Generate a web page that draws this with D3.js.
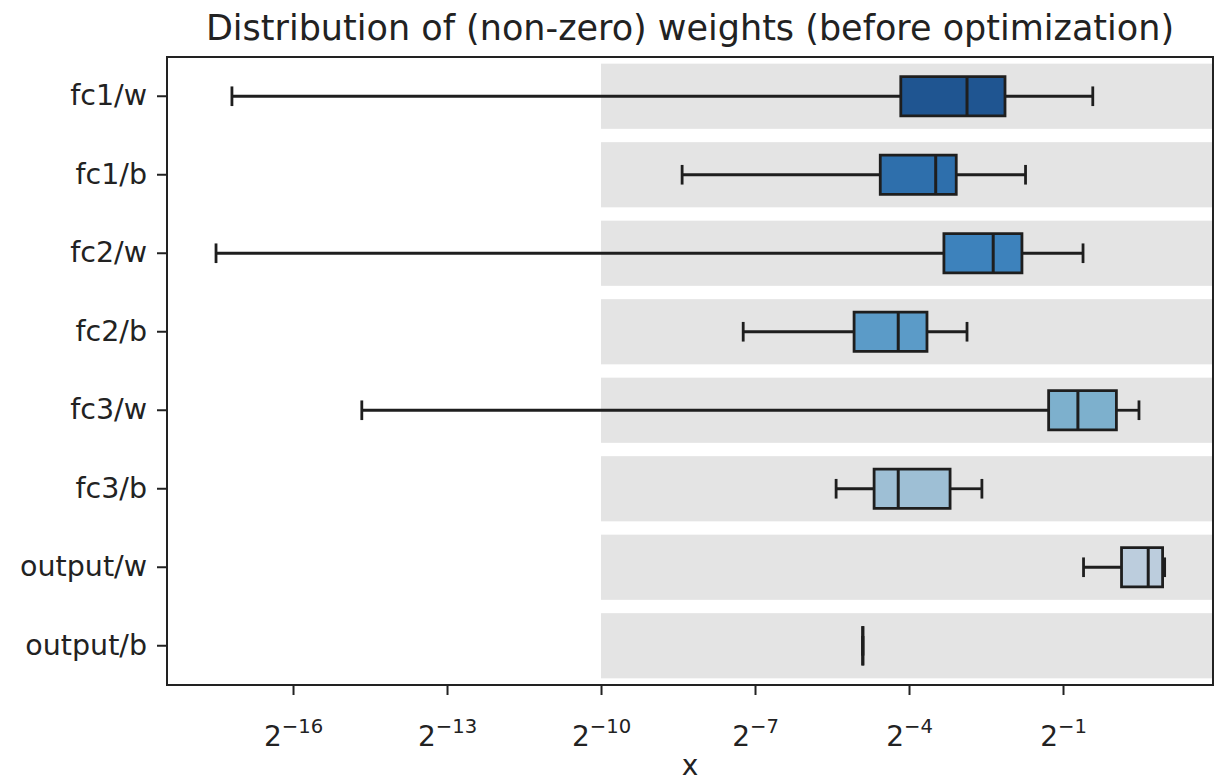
<!DOCTYPE html>
<html>
<head>
<meta charset="utf-8">
<script src="https://cdn.jsdelivr.net/npm/d3@7"></script>
<style>
  body { margin: 0; background: #fff; }
  text { font-family: "DejaVu Sans", sans-serif; fill: #222; }
</style>
</head>
<body>
<svg id="chart" width="1228" height="783"></svg>
<script>
// values, as log2 exponents
const categories = ["fc1/w", "fc1/b", "fc2/w", "fc2/b", "fc3/w", "fc3/b", "output/w", "output/b"];
const whiskerLo = [-17.19, -8.42, -17.5, -7.23, -14.66, -5.42, -0.60, -4.90];
const q1 =        [-4.16, -4.56, -3.32, -5.07, -1.28, -4.68, 0.14, -4.90];
const median =    [-2.87, -3.48, -2.36, -4.21, -0.71, -4.21, 0.66, -4.90];
const q3 =        [-2.13, -3.08, -1.80, -3.65, 0.04, -3.20, 0.94, -4.90];
const whiskerHi = [-0.42, -1.73, -0.61, -2.87, 0.48, -2.58, 0.98, -4.90];
const tickExps = [-16, -13, -10, -7, -4, -1];
const bandStartExp = -10;
const colors = ["#1f5591", "#2e6fac", "#3d82bc", "#5b9bc8", "#7db0cd", "#9ebfd5", "#bccddd", "#d6e2ed"];

const mLeft = 167, mRight = 1213, mTop = 57, mBottom = 685;
const svg = d3.select("#chart");

const x = d3.scaleLog().base(2)
  .domain([Math.pow(2, -18.455), Math.pow(2, 1.922)])
  .range([mLeft, mRight]);

const y = d3.scaleBand()
  .domain(categories)
  .range([mTop, mBottom]);

const bw = y.bandwidth();
const rows = categories.map((c, i) => ({
  name: c, lo: whiskerLo[i], q1: q1[i], med: median[i], q3: q3[i], hi: whiskerHi[i], color: colors[i]
}));
const px = e => x(Math.pow(2, e));

svg.append("clipPath").attr("id", "plot")
  .append("rect").attr("x", mLeft).attr("y", mTop).attr("width", mRight - mLeft).attr("height", mBottom - mTop);

const plot = svg.append("g").attr("clip-path", "url(#plot)");

// gray background bands
plot.selectAll("rect.band")
  .data(rows)
  .enter()
  .append("rect")
  .attr("class", "band")
  .attr("x", px(bandStartExp))
  .attr("y", d => y(d.name) + bw * 0.085)
  .attr("width", mRight - px(bandStartExp) + 10)
  .attr("height", bw * 0.83)
  .attr("fill", "#e4e4e4");

const lineColor = "#1e1e1e";
const lw = 2.8;
const g = plot.selectAll("g.box")
  .data(rows)
  .enter()
  .append("g")
  .attr("class", "box");

const cy = d => y(d.name) + bw / 2;

// whiskers
g.append("line")
  .attr("x1", d => px(d.lo)).attr("x2", d => px(d.q1))
  .attr("y1", cy).attr("y2", cy)
  .attr("stroke", lineColor).attr("stroke-width", lw);
g.append("line")
  .attr("x1", d => px(d.q3)).attr("x2", d => px(d.hi))
  .attr("y1", cy).attr("y2", cy)
  .attr("stroke", lineColor).attr("stroke-width", lw);

// caps
["lo", "hi"].forEach(k => {
  g.append("line")
    .attr("x1", d => px(d[k])).attr("x2", d => px(d[k]))
    .attr("y1", d => cy(d) - bw * 0.125).attr("y2", d => cy(d) + bw * 0.125)
    .attr("stroke", lineColor).attr("stroke-width", lw);
});

// boxes (path so a zero-width box still shows)
g.append("path")
  .attr("d", d => {
    const x1 = px(d.q1), x2 = px(d.q3), y0 = cy(d) - bw * 0.25, y1 = cy(d) + bw * 0.25;
    return `M${x1},${y0}H${x2}V${y1}H${x1}Z`;
  })
  .attr("fill", d => d.color)
  .attr("stroke", lineColor).attr("stroke-width", lw);

// medians
g.append("line")
  .attr("x1", d => px(d.med)).attr("x2", d => px(d.med))
  .attr("y1", d => cy(d) - bw * 0.25).attr("y2", d => cy(d) + bw * 0.25)
  .attr("stroke", lineColor).attr("stroke-width", 3);

// axes
const xAxis = svg.append("g")
  .attr("transform", `translate(0,${mBottom})`)
  .call(d3.axisBottom(x).tickValues(tickExps.map(e => Math.pow(2, e))).tickSize(10).tickPadding(12).tickFormat(""));
xAxis.select(".domain").remove();
xAxis.selectAll(".tick line").attr("stroke", "#222").attr("stroke-width", 2);
xAxis.selectAll(".tick text")
  .attr("font-size", 28)
  .attr("dy", "1.4em")
  .each(function(d) {
    const t = d3.select(this);
    const e = Math.round(Math.log2(d));
    t.append("tspan").text("2");
    t.append("tspan").attr("font-size", 19.6).attr("dy", -13)
      .text((e < 0 ? "\u2212" : "") + Math.abs(e));
  });

const yAxis = svg.append("g")
  .attr("transform", `translate(${mLeft},0)`)
  .call(d3.axisLeft(y).tickSize(10).tickPadding(10));
yAxis.select(".domain").remove();
yAxis.selectAll(".tick line").attr("stroke", "#222").attr("stroke-width", 2);
yAxis.selectAll(".tick text").attr("font-size", 28.5).attr("font-family", "DejaVu Sans").attr("fill", "#222");

// frame
svg.append("rect")
  .attr("x", mLeft).attr("y", mTop).attr("width", mRight - mLeft).attr("height", mBottom - mTop)
  .attr("fill", "none").attr("stroke", "#222").attr("stroke-width", 2);

svg.append("text")
  .attr("x", (mLeft + mRight) / 2).attr("y", 40)
  .attr("text-anchor", "middle").attr("font-size", 35)
  .text("Distribution of (non-zero) weights (before optimization)");

svg.append("text")
  .attr("x", (mLeft + mRight) / 2).attr("y", 775)
  .attr("text-anchor", "middle").attr("font-size", 28)
  .text("x");
</script>
</body>
</html>
